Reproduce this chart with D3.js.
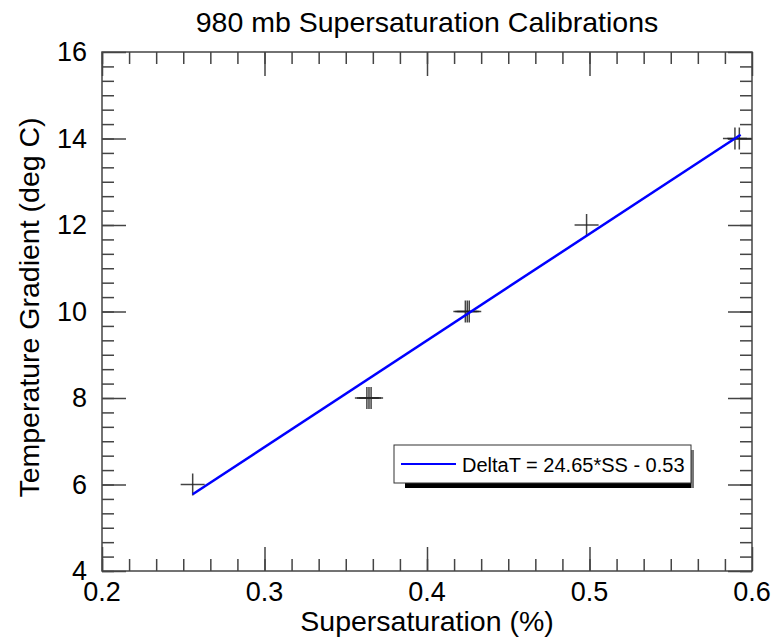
<!DOCTYPE html>
<html>
<head>
<meta charset="utf-8">
<script src="https://cdn.jsdelivr.net/npm/d3@7"></script>
<style>
  html, body { margin: 0; padding: 0; background: #fff; }
  svg { display: block; }
  text { font-family: "Liberation Sans", Arial, Helvetica, sans-serif; fill: #000; }
</style>
</head>
<body>
<svg id="chart" width="772" height="639"></svg>
<script>
// ---- data ----
const title = "980 mb Supersaturation Calibrations";
const xLabel = "Supersaturation (%)";
const yLabel = "Temperature Gradient (deg C)";
const xDomain = [0.2, 0.6];
const yDomain = [4, 16];
const xTickValues = [0.2, 0.3, 0.4, 0.5, 0.6];
const yTickValues = [4, 6, 8, 10, 12, 14, 16];
// calibration points (supersaturation %, delta T)
const ssValues = [0.2558, 0.3630, 0.3643, 0.3656, 0.4236, 0.4248, 0.4260, 0.4982, 0.5895, 0.5922];
const dtValues = [6, 8, 8, 8, 10, 10, 10, 12, 14, 14];
// fitted line endpoints
const fitSS = [0.2558, 0.5930];
const fitDT = [5.775, 14.087];
const legendText = "DeltaT = 24.65*SS - 0.53";

// ---- layout ----
const svg = d3.select("#chart");
const L = 102, R = 752, T = 52, B = 571;
const x = d3.scaleLinear().domain(xDomain).range([L, R]);
const y = d3.scaleLinear().domain(yDomain).range([B, T]);
const axisColor = "#444";
const fs = 28.5;
const tfs = 27;

// minor tick values (6 subdivisions per major interval)
const xMinor = d3.range(0, 25).map(i => xDomain[0] + i * (0.1 / 6)).filter(v => v < xDomain[1] - 1e-9);
const yMinor = d3.range(0, 37).map(i => yDomain[0] + i * (2 / 6)).filter(v => v < yDomain[1] - 1e-9);

function axisTicks(g, axisGen, vals, size) {
  g.call(axisGen.tickValues(vals).tickSize(size).tickFormat(""));
  g.select(".domain").remove();
  g.selectAll("line").attr("stroke", axisColor).attr("stroke-width", 1.5);
}

// bottom ticks (inside)
axisTicks(svg.append("g").attr("transform", `translate(0,${B})`), d3.axisTop(x), xMinor, 12);
axisTicks(svg.append("g").attr("transform", `translate(0,${B})`), d3.axisTop(x), xTickValues, 24);
// top ticks (inside)
axisTicks(svg.append("g").attr("transform", `translate(0,${T})`), d3.axisBottom(x), xMinor, 12);
axisTicks(svg.append("g").attr("transform", `translate(0,${T})`), d3.axisBottom(x), xTickValues, 24);
// left ticks
axisTicks(svg.append("g").attr("transform", `translate(${L},0)`), d3.axisRight(y), yMinor, 12);
axisTicks(svg.append("g").attr("transform", `translate(${L},0)`), d3.axisRight(y), yTickValues, 24);
// right ticks
axisTicks(svg.append("g").attr("transform", `translate(${R},0)`), d3.axisLeft(y), yMinor, 12);
axisTicks(svg.append("g").attr("transform", `translate(${R},0)`), d3.axisLeft(y), yTickValues, 24);

// frame
svg.append("rect").attr("x", L).attr("y", T).attr("width", R - L).attr("height", B - T)
  .attr("fill", "none").attr("stroke", axisColor).attr("stroke-width", 1.5);

// tick labels
svg.append("g").selectAll("text").data(xTickValues).join("text")
  .attr("x", d => x(d)).attr("y", B + 30)
  .attr("text-anchor", "middle").attr("font-size", tfs)
  .text(d => d3.format(".1f")(d));
svg.append("g").selectAll("text").data(yTickValues).join("text")
  .attr("x", L - 15).attr("y", d => y(d)).attr("dy", "0.34em")
  .attr("text-anchor", "end").attr("font-size", tfs)
  .text(d => d);

// title and axis labels
svg.append("text").attr("x", (L + R) / 2).attr("y", 32).attr("text-anchor", "middle")
  .attr("font-size", fs).text(title);
svg.append("text").attr("x", (L + R) / 2).attr("y", 631).attr("text-anchor", "middle")
  .attr("font-size", fs).text(xLabel);
svg.append("text").attr("transform", `translate(39,${(T + B) / 2 - 4}) rotate(-90)`)
  .attr("text-anchor", "middle").attr("font-size", fs).text(yLabel);

// data points (plus symbols)
const pts = ssValues.map((s, i) => ({ s, d: dtValues[i] }));
const pg = svg.append("g").attr("stroke", "#222").attr("stroke-width", 1.5).attr("stroke-opacity", 0.85);
pg.selectAll("line.h").data(pts).join("line").attr("class", "h")
  .attr("x1", p => x(p.s) - 12).attr("x2", p => x(p.s) + 12)
  .attr("y1", p => y(p.d)).attr("y2", p => y(p.d));
pg.selectAll("line.v").data(pts).join("line").attr("class", "v")
  .attr("x1", p => x(p.s)).attr("x2", p => x(p.s))
  .attr("y1", p => y(p.d) - 11).attr("y2", p => y(p.d) + 11);

// fit line
const fitData = fitSS.map((s, i) => [s, fitDT[i]]);
svg.append("path").datum(fitData)
  .attr("d", d3.line().x(d => x(d[0])).y(d => y(d[1])))
  .attr("fill", "none").attr("stroke", "#0000ff").attr("stroke-width", 2.5);

// legend
const lg = svg.append("g");
lg.append("rect").attr("x", 405).attr("y", 483).attr("width", 287).attr("height", 5).attr("fill", "#000");
lg.append("rect").attr("x", 691).attr("y", 450).attr("width", 3).attr("height", 38).attr("fill", "#777");
lg.append("rect").attr("x", 394).attr("y", 445).attr("width", 297).attr("height", 38)
  .attr("fill", "#fff").attr("stroke", "#333").attr("stroke-width", 1);
lg.append("line").attr("x1", 401).attr("x2", 456).attr("y1", 464).attr("y2", 464)
  .attr("stroke", "#0000ff").attr("stroke-width", 2);
lg.append("text").attr("x", 462).attr("y", 472).attr("font-size", 20).text(legendText);
</script>
</body>
</html>
